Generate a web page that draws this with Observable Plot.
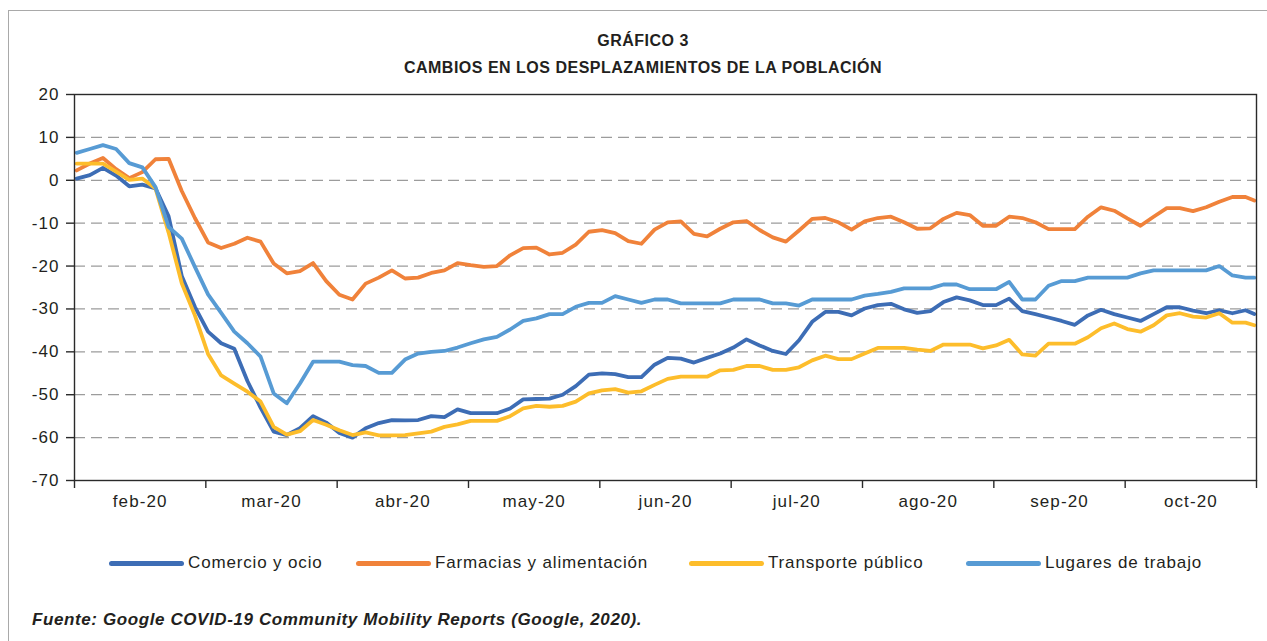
<!DOCTYPE html>
<html><head><meta charset="utf-8">
<script src="https://cdn.jsdelivr.net/npm/d3@7"></script>
<script src="https://cdn.jsdelivr.net/npm/@observablehq/plot@0.6"></script>
<style>
html,body{margin:0;padding:0;background:#fff;overflow:hidden;}
#wrap{position:relative;width:1267px;height:641px;font-family:"Liberation Sans",Arial,sans-serif;color:#231f20;overflow:hidden;}
#frame{position:absolute;left:8px;top:10px;width:1300px;height:700px;border:1.5px solid #a9a9a9;box-sizing:border-box;}
.title{position:absolute;left:0;width:1286px;text-align:center;font-weight:bold;font-size:16px;letter-spacing:0.5px;line-height:20px;}
#chart{position:absolute;left:0;top:0;}
.sw{position:absolute;height:5px;border-radius:3px;top:561px;}
.lt{position:absolute;top:552px;font-size:17px;line-height:22px;letter-spacing:0.85px;white-space:nowrap;}
#cap{position:absolute;left:32px;top:609px;font-size:17px;font-weight:bold;font-style:italic;line-height:22px;letter-spacing:0.6px;white-space:nowrap;}
</style></head>
<body><div id="wrap">
<div id="frame"></div>
<div class="title" style="top:31px">GRÁFICO 3</div>
<div class="title" style="top:58px">CAMBIOS EN LOS DESPLAZAMIENTOS DE LA POBLACIÓN</div>
<div id="chart"></div>
<div id="legend"></div>
<div id="cap">Fuente: Google COVID-19 Community Mobility Reports (Google, 2020).</div>
</div>
<script>
// Day index (0 = 15 feb 2020), sampled every 3 days
const days = [0,3,6,9,12,15,18,21,24,27,30,33,36,39,42,45,48,51,54,57,60,63,66,69,72,75,78,81,84,87,90,93,96,99,102,105,108,111,114,117,120,123,126,129,132,135,138,141,144,147,150,153,156,159,162,165,168,171,174,177,180,183,186,189,192,195,198,201,204,207,210,213,216,219,222,225,228,231,234,237,240,243,246,249,252,255,258,261,264,267,269];

const comercio = [0.4,1.2,2.9,1.1,-1.4,-1.0,-1.9,-8.4,-22.3,-29.5,-35.3,-38.0,-39.3,-46.8,-53.0,-58.6,-59.4,-57.8,-55.0,
-56.5,-58.9,-60.0,-57.8,-56.6,-55.9,-56.0,-55.9,-55.0,-55.2,-53.4,-54.3,-54.3,-54.3,-53.2,-51.1,-51.0,
-50.9,-50.0,-48.0,-45.3,-45.0,-45.2,-45.9,-45.9,-43.0,-41.4,-41.6,-42.5,-41.4,-40.4,-39.0,-37.1,-38.5,-39.8,
-40.5,-37.3,-33.0,-30.7,-30.7,-31.5,-29.9,-29.1,-28.8,-30.1,-30.9,-30.5,-28.4,-27.3,-28.0,-29.1,-29.1,-27.6,
-30.5,-31.2,-32.0,-32.8,-33.7,-31.5,-30.2,-31.2,-32.0,-32.8,-31.2,-29.6,-29.6,-30.4,-31.0,-30.3,-31.0,-30.3,-31.2];

const farmacias = [2.3,3.9,5.2,2.6,0.5,1.9,4.9,5.0,-2.5,-8.8,-14.5,-15.8,-14.8,-13.4,-14.3,-19.4,-21.7,-21.2,-19.3,
-23.5,-26.7,-27.8,-24.1,-22.7,-21.0,-22.9,-22.7,-21.6,-21.0,-19.3,-19.8,-20.2,-20.0,-17.5,-15.8,-15.7,
-17.3,-16.9,-15.0,-12.0,-11.6,-12.3,-14.2,-14.8,-11.5,-9.8,-9.6,-12.5,-13.1,-11.3,-9.8,-9.5,-11.6,-13.3,
-14.3,-11.7,-9.0,-8.8,-9.8,-11.5,-9.6,-8.8,-8.5,-9.8,-11.3,-11.2,-9.0,-7.6,-8.1,-10.6,-10.6,-8.5,
-8.8,-9.8,-11.4,-11.4,-11.4,-8.5,-6.3,-7.1,-8.9,-10.6,-8.5,-6.5,-6.5,-7.2,-6.3,-5.0,-3.9,-3.9,-4.7];

const transporte = [3.9,3.9,3.9,2.0,0.1,0.4,-1.9,-12.2,-24.0,-31.5,-40.5,-45.5,-47.4,-49.3,-51.6,-57.5,-59.3,-58.5,-55.9,
-57.0,-58.3,-59.4,-58.8,-59.5,-59.5,-59.4,-59.0,-58.6,-57.5,-56.9,-56.1,-56.1,-56.1,-55.0,-53.2,-52.6,
-52.8,-52.6,-51.6,-49.7,-49.0,-48.7,-49.5,-49.2,-47.7,-46.3,-45.8,-45.8,-45.8,-44.3,-44.2,-43.3,-43.3,-44.2,
-44.2,-43.6,-42.0,-40.9,-41.7,-41.7,-40.4,-39.1,-39.1,-39.1,-39.5,-39.8,-38.3,-38.3,-38.3,-39.2,-38.5,-37.2,
-40.6,-40.9,-38.1,-38.1,-38.1,-36.6,-34.5,-33.4,-34.7,-35.3,-33.8,-31.5,-31.0,-31.8,-32.0,-31.0,-33.2,-33.2,-33.8];

const lugares = [6.4,7.3,8.2,7.3,4.0,3.0,-1.6,-10.9,-13.6,-20.2,-26.6,-30.9,-35.3,-38.0,-41.1,-49.7,-52.0,-47.4,-42.3,
-42.3,-42.3,-43.1,-43.3,-44.9,-44.9,-41.8,-40.4,-40.0,-39.8,-39.0,-38.0,-37.1,-36.5,-34.8,-32.8,-32.2,
-31.2,-31.2,-29.5,-28.6,-28.6,-27.0,-27.8,-28.6,-27.8,-27.8,-28.7,-28.7,-28.7,-28.7,-27.8,-27.8,-27.8,-28.7,
-28.7,-29.2,-27.8,-27.8,-27.8,-27.8,-26.9,-26.5,-26.0,-25.2,-25.2,-25.2,-24.3,-24.3,-25.4,-25.4,-25.4,-23.7,
-27.8,-27.8,-24.6,-23.5,-23.5,-22.7,-22.7,-22.7,-22.7,-21.7,-21.0,-21.0,-21.0,-21.0,-21.0,-20.0,-22.2,-22.7,-22.7];

const seriesNames = ["Comercio y ocio","Farmacias y alimentación","Transporte público","Lugares de trabajo"];
const seriesColors = ["#3d6db5","#f0823a","#fdbd2b","#579bd4"];
const seriesValues = [comercio, farmacias, transporte, lugares];
const monthLabels = ["feb-20","mar-20","abr-20","may-20","jun-20","jul-20","ago-20","sep-20","oct-20"];
const yTicks = [-70,-60,-50,-40,-30,-20,-10,0,10,20];
const gridTicks = [-60,-50,-40,-30,-20,-10,0,10];

const rows = [];
seriesNames.forEach((name, s) => {
  days.forEach((d, i) => rows.push({serie: name, day: d, value: seriesValues[s][i]}));
});

const nDays = 270, period = 30;
const boundaries = d3.range(0, nDays + 1, period).map(d => d - 0.5);
const mids = monthLabels.map((_, i) => i * period + period / 2 - 0.5);

const chart = Plot.plot({
  width: 1267, height: 520,
  marginTop: 94, marginBottom: 40, marginLeft: 74, marginRight: 11,
  style: {fontFamily: '"Liberation Sans", Arial, sans-serif', fontSize: "17px", color: "#231f20", background: "transparent"},
  x: {domain: [-0.5, nDays - 0.5], axis: null},
  y: {domain: [-70, 20], axis: null},
  color: {domain: seriesNames, range: seriesColors},
  marks: [
    Plot.gridY(gridTicks, {stroke: "#9c9c9c", strokeOpacity: 1, strokeWidth: 1.3, strokeDasharray: "11,6"}),
    Plot.lineY(rows, {x: "day", y: "value", z: "serie", stroke: "serie", strokeWidth: 3.8, strokeLinejoin: "round", strokeLinecap: "round"}),
    Plot.frame({stroke: "#2a2a2a", strokeWidth: 1.4}),
    Plot.axisY({ticks: yTicks, label: null, tickSize: 8, tickPadding: 7, tickFormat: d => String(d), stroke: "#2a2a2a", strokeWidth: 1.4}),
    Plot.axisX({ticks: boundaries, label: null, tickSize: 8, tickFormat: () => "", stroke: "#2a2a2a", strokeWidth: 1.4}),
    Plot.axisX({ticks: mids, label: null, tickSize: 0, tickPadding: 14, tickFormat: (d, i) => monthLabels[i]})
  ]
});
chart.querySelectorAll("text").forEach(t => t.setAttribute("letter-spacing", "1.1"));
document.getElementById("chart").appendChild(chart);

// legend
const swLeft = [109, 356, 689, 966];
const swWidth = 75;
const legend = document.getElementById("legend");
seriesNames.forEach((name, i) => {
  const sw = document.createElement("div");
  sw.className = "sw";
  sw.style.left = swLeft[i] + "px";
  sw.style.width = swWidth + "px";
  sw.style.background = seriesColors[i];
  legend.appendChild(sw);
  const t = document.createElement("div");
  t.className = "lt";
  t.style.left = (swLeft[i] + swWidth + 4) + "px";
  t.textContent = name;
  legend.appendChild(t);
});
</script>
</body></html>
